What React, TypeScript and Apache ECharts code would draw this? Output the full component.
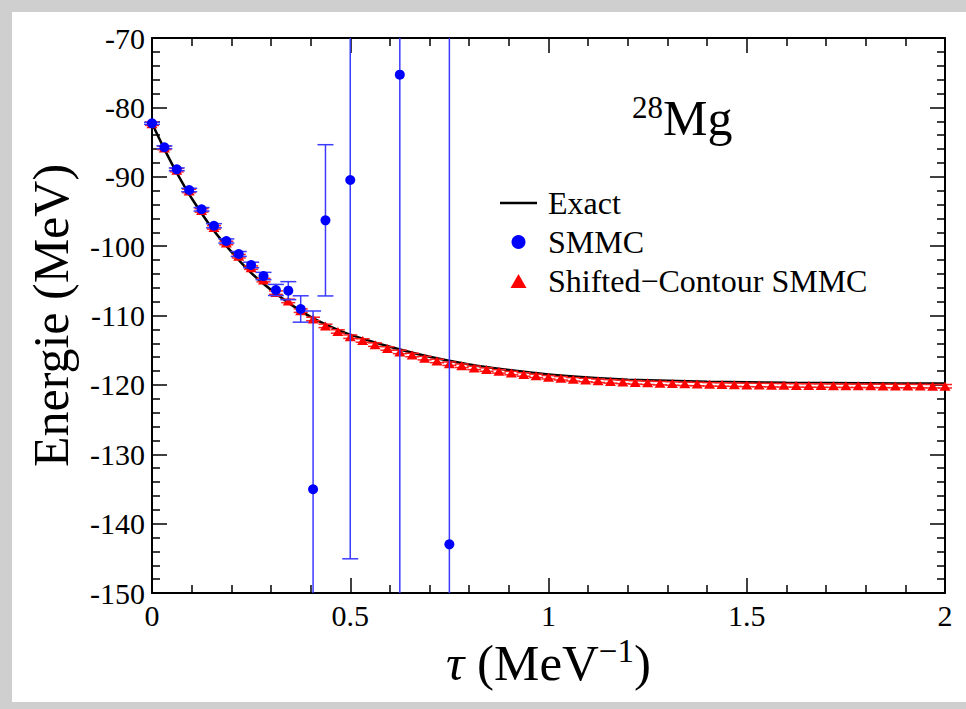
import React, { useEffect, useRef } from "react";
import * as echarts from "echarts";

// ---- data ----
const tauExact = [0, 0.025, 0.05, 0.075, 0.1, 0.15, 0.2, 0.25, 0.3, 0.35, 0.4, 0.45, 0.5, 0.6, 0.7, 0.8, 0.9, 1.0, 1.1, 1.2, 1.4, 1.6, 1.8, 2.0];
const eExact = [-82.3, -85.3, -88.1, -90.7, -93.1, -97.3, -100.8, -103.85, -106.3, -108.4, -110.2, -111.6, -112.75, -114.5, -115.95, -117.05, -117.85, -118.5, -118.95, -119.25, -119.55, -119.7, -119.77, -119.8];

const tauSmmc = [0, 0.03125, 0.0625, 0.09375, 0.125, 0.15625, 0.1875, 0.21875, 0.25, 0.28125, 0.3125, 0.34375, 0.375, 0.40625, 0.4375, 0.5, 0.625, 0.75];
const eSmmc = [-82.3, -85.75, -88.93, -91.91, -94.69, -97.06, -99.26, -101.13, -102.72, -104.31, -106.32, -106.42, -109.06, -135.05, -96.28, -90.47, -75.29, -142.98];
const errSmmc = [0.15, 0.2, 0.2, 0.25, 0.25, 0.3, 0.3, 0.35, 0.4, 0.53, 0.8, 1.3, 1.9, 25.7, 10.9, 54.6, 95, 80];

const tauShift = [0, 0.03125, 0.0625, 0.09375, 0.125, 0.15625, 0.1875, 0.21875, 0.25, 0.28125, 0.3125, 0.34375, 0.375, 0.40625, 0.4375, 0.46875, 0.5, 0.53125, 0.5625, 0.59375, 0.625, 0.65625, 0.6875, 0.71875, 0.75, 0.78125, 0.8125, 0.84375, 0.875, 0.90625, 0.9375, 0.96875, 1, 1.03125, 1.0625, 1.09375, 1.125, 1.15625, 1.1875, 1.21875, 1.25, 1.28125, 1.3125, 1.34375, 1.375, 1.40625, 1.4375, 1.46875, 1.5, 1.53125, 1.5625, 1.59375, 1.625, 1.65625, 1.6875, 1.71875, 1.75, 1.78125, 1.8125, 1.84375, 1.875, 1.90625, 1.9375, 1.96875, 2];
const eShift = [-82.35, -85.85, -89.05, -92.05, -94.85, -97.3, -99.55, -101.45, -103.1, -104.9, -106.7, -107.9, -109.3, -110.5, -111.5, -112.3, -113.05, -113.6, -114.2, -114.75, -115.25, -115.7, -116.15, -116.55, -116.95, -117.25, -117.55, -117.8, -118.05, -118.3, -118.5, -118.7, -118.9, -119.05, -119.2, -119.3, -119.4, -119.5, -119.57, -119.64, -119.7, -119.75, -119.8, -119.85, -119.88, -119.92, -119.95, -119.97, -120.0, -120.02, -120.04, -120.06, -120.08, -120.09, -120.1, -120.11, -120.12, -120.13, -120.14, -120.15, -120.16, -120.17, -120.18, -120.19, -120.2];
const errShift = 0.25;

const xTicks = { min: 0, max: 2, interval: 0.5 };
const yTicks = { min: -150, max: -70, interval: 10 };

const FONT = "Liberation Serif";

function makeErrRenderer(color: string, capHalf: number, width: number) {
  return function (params: any, api: any) {
    const x = api.value(0);
    const lo = api.value(1);
    const hi = api.value(2);
    const clo = Math.max(lo, yTicks.min);
    const chi = Math.min(hi, yTicks.max);
    const p1 = api.coord([x, clo]);
    const p2 = api.coord([x, chi]);
    const style = { stroke: color, lineWidth: width };
    const children: any[] = [
      { type: "line", shape: { x1: p1[0], y1: p1[1], x2: p2[0], y2: p2[1] }, style },
    ];
    if (lo >= yTicks.min) {
      children.push({ type: "line", shape: { x1: p1[0] - capHalf, y1: p1[1], x2: p1[0] + capHalf, y2: p1[1] }, style });
    }
    if (hi <= yTicks.max) {
      children.push({ type: "line", shape: { x1: p2[0] - capHalf, y1: p2[1], x2: p2[0] + capHalf, y2: p2[1] }, style });
    }
    return { type: "group", children };
  };
}

export default function App() {
  const ref = useRef<HTMLDivElement>(null);
  useEffect(() => {
    const chart = echarts.init(ref.current!, undefined, { renderer: "svg" });
    const tickLine = { color: "#000", width: 1.5 };
    const axisLine = { show: true, onZero: false, lineStyle: { color: "#000", width: 2 } };
    const baseX = {
      type: "value",
      ...xTicks,
      axisLine,
      axisTick: { show: true, inside: true, length: 15, lineStyle: tickLine },
      minorTick: { show: true, splitNumber: 5, length: 8, lineStyle: tickLine },
      splitLine: { show: false },
      minorSplitLine: { show: false },
    };
    const baseY = {
      type: "value",
      ...yTicks,
      axisLine,
      axisTick: { show: true, inside: true, length: 15, lineStyle: tickLine },
      minorTick: { show: true, splitNumber: 5, length: 8, lineStyle: tickLine },
      splitLine: { show: false },
      minorSplitLine: { show: false },
    };
    const option: any = {
      animation: false,
      textStyle: { fontFamily: FONT },
      grid: { left: 152, right: 21, top: 38, bottom: 116, containLabel: false },
      title: {
        text: "{sup|28}{main|Mg}",
        left: 632,
        top: 92,
        padding: 0,
        textStyle: {
          fontWeight: "normal",
          rich: {
            sup: { fontFamily: FONT, fontSize: 31, lineHeight: 44, verticalAlign: "top", color: "#000" },
            main: { fontFamily: FONT, fontSize: 50, lineHeight: 52, color: "#000" },
          },
        },
      },
      legend: {
        orient: "vertical",
        left: 500,
        top: 187,
        padding: 0,
        itemWidth: 37,
        itemHeight: 14,
        itemGap: 7,
        textStyle: { fontFamily: FONT, fontSize: 32, lineHeight: 31, color: "#000", padding: [0, 0, 0, 6] },
        data: [
          { name: "Exact", icon: "path://M0,0 L37,0 L37,2.5 L0,2.5 Z" },
          { name: "SMMC", icon: "circle" },
          { name: "Shifted\u2212Contour SMMC", icon: "path://M8,0 L16,14 L0,14 Z" },
        ],
      },
      xAxis: [
        {
          ...baseX,
          position: "bottom",
          axisLabel: { show: true, fontSize: 30, color: "#000", margin: 7, fontFamily: FONT },
          name: "{it|\u03c4} (MeV{sup|\u22121})",
          nameLocation: "middle",
          nameGap: 32,
          nameTextStyle: {
            fontFamily: FONT,
            fontSize: 51,
            lineHeight: 56,
            color: "#000",
            rich: {
              it: { fontFamily: FONT, fontSize: 51, lineHeight: 56, fontStyle: "italic", color: "#000" },
              sup: { fontFamily: FONT, fontSize: 33, lineHeight: 33, verticalAlign: "top", color: "#000" },
            },
          },
        },
        { ...baseX, position: "top", axisLabel: { show: false } },
      ],
      yAxis: [
        {
          ...baseY,
          position: "left",
          axisLabel: { show: true, fontSize: 30, color: "#000", margin: 7, fontFamily: FONT },
          name: "Energie (MeV)",
          nameLocation: "middle",
          nameGap: 72,
          nameTextStyle: { fontFamily: FONT, fontSize: 50, lineHeight: 56, color: "#000" },
        },
        { ...baseY, position: "right", axisLabel: { show: false } },
      ],
      series: [
        {
          name: "Exact",
          type: "line",
          xAxisIndex: 0,
          yAxisIndex: 0,
          data: tauExact.map((t, i) => [t, eExact[i]]),
          showSymbol: false,
          smooth: 0.3,
          color: "#000",
          lineStyle: { color: "#000", width: 2.5 },
          z: 2,
        },
        {
          name: "shiftErr",
          type: "custom",
          xAxisIndex: 0,
          yAxisIndex: 0,
          silent: true,
          renderItem: makeErrRenderer("#ff2020", 7, 1.5),
          data: tauShift.map((t, i) => [t, eShift[i] - errShift, eShift[i] + errShift]),
          z: 3,
        },
        {
          name: "Shifted\u2212Contour SMMC",
          type: "scatter",
          xAxisIndex: 0,
          yAxisIndex: 0,
          symbol: "triangle",
          symbolSize: [11, 9],
          color: "#ff0000",
          itemStyle: { color: "#ff0000", opacity: 1 },
          data: tauShift.map((t, i) => [t, eShift[i]]),
          z: 4,
        },
        {
          name: "smmcErr",
          type: "custom",
          xAxisIndex: 0,
          yAxisIndex: 0,
          silent: true,
          renderItem: makeErrRenderer("#3b3bff", 8, 1.5),
          data: tauSmmc.map((t, i) => [t, eSmmc[i] - errSmmc[i], eSmmc[i] + errSmmc[i]]),
          z: 5,
        },
        {
          name: "SMMC",
          type: "scatter",
          xAxisIndex: 0,
          yAxisIndex: 0,
          symbol: "circle",
          symbolSize: 10,
          color: "#0000ff",
          itemStyle: { color: "#0000ff", opacity: 1 },
          data: tauSmmc.map((t, i) => [t, eSmmc[i]]),
          z: 6,
        },
      ],
    };
    chart.setOption(option);
    return () => chart.dispose();
  }, []);
  return (
    <div style={{ position: "fixed", left: 0, top: 0, width: 966, height: 709, background: "#cfcfcf" }}>
      <div style={{ position: "absolute", left: 12, top: 12, right: 0, bottom: 7, background: "#ffffff" }} />
      <div ref={ref} style={{ position: "absolute", left: 0, top: 0, width: 966, height: 709 }} />
    </div>
  );
}
